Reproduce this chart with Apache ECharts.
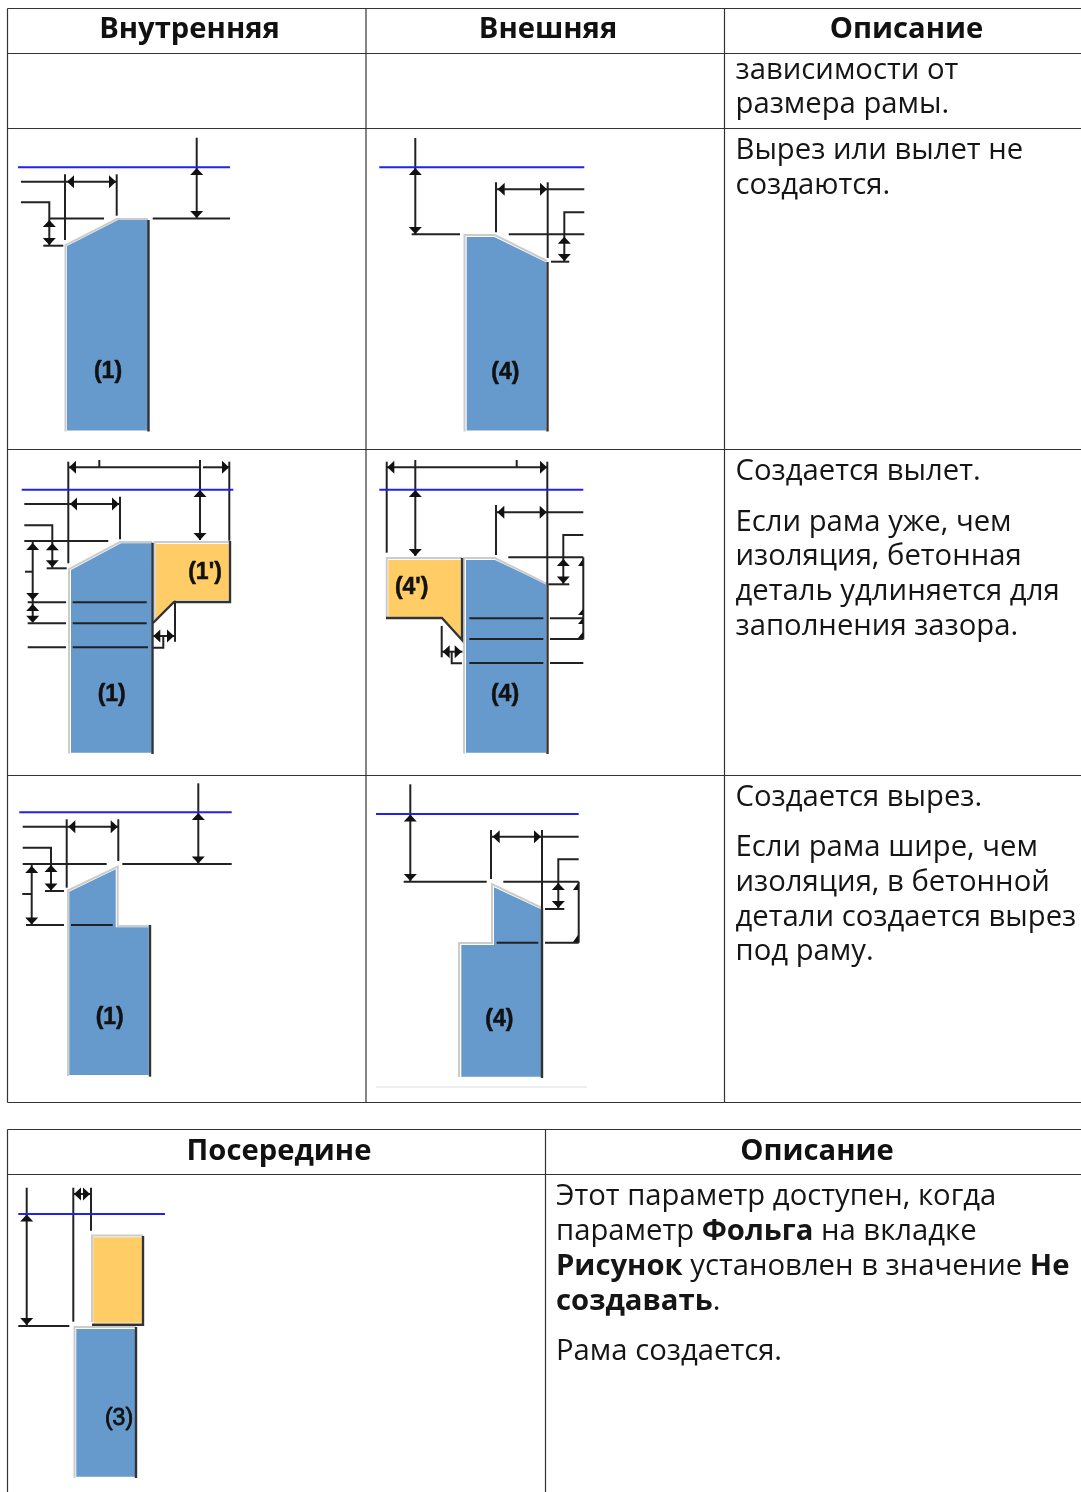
<!DOCTYPE html>
<html>
<head>
<meta charset="utf-8">
<title>Вырез и вылет</title>
<style>
html,body{margin:0;padding:0;background:#fff}
#main{width:1081px;height:1492px}
</style>
<script src="https://cdn.jsdelivr.net/npm/echarts@6/dist/echarts.min.js"></script>
</head>
<body>
<div id="main"></div>
<script>
// everything below is in picture pixels
var tableLines = [
  [[7.5,8.5],[1081,8.5]], [[7.5,53.5],[1081,53.5]], [[7.5,128.5],[1081,128.5]],
  [[7.5,449.5],[1081,449.5]], [[7.5,775.5],[1081,775.5]], [[7.5,1102.5],[1081,1102.5]],
  [[7.5,8.5],[7.5,1102.5]], [[366,8.5],[366,1102.5]], [[724.5,8.5],[724.5,1102.5]],
  [[7.5,1129.5],[1081,1129.5]], [[7.5,1174.5],[1081,1174.5]],
  [[7.5,1129.5],[7.5,1492]], [[545.5,1129.5],[545.5,1492]]
]
var faintLines = [[[376,1087],[587,1087]]]

var blueShapes = [
  [[67,246],[118,220],[148,220],[148,430.5],[67,430.5]],
  [[466.7,237],[494.3,237],[546,262.3],[546,430.5],[466.7,430.5]],
  [[71,570],[121,543.3],[151.7,543.3],[151.7,752.7],[71,752.7]],
  [[466,560],[495,560],[546,584.3],[546,752.7],[466,752.7]],
  [[69.3,891.7],[115.7,869.3],[115.7,927.3],[148.7,927.3],[148.7,1075],[69.3,1075]],
  [[494,887.3],[541,909.3],[541,1076.7],[461.3,1076.7],[461.3,945],[494,945]],
  [[76.3,1329],[135,1329],[135,1476.7],[76.3,1476.7]]
]
var orangeShapes = [
  [[156,544],[228.7,544],[228.7,600],[174,600],[156,620]],
  [[388.3,560],[460.7,560],[460.7,636.7],[442.7,616.7],[388.3,616.7]],
  [[93.3,1237.3],[141.7,1237.3],[141.7,1322.7],[93.3,1322.7]]
]
var greyEdges = [
  [[65.5,431.5],[65.5,245],[117,219],[148,219]],
  [[464.5,431.5],[464.5,235],[495,235],[547,261]],
  [[69,753.5],[69,569],[120,542],[152,542]],
  [[154.7,620],[154.7,542],[229,542]],
  [[464,753.5],[464,558],[495,558],[547,584]],
  [[386.7,618],[386.7,558],[462,558]],
  [[68,1076],[68,890.5],[117.7,866.5],[117.7,926],[150,926]],
  [[459,1077],[459,943],[492,943],[492,884],[542,908]],
  [[92,1322],[92,1235.5],[143,1235.5]],
  [[74.5,1478],[74.5,1327],[136,1327]]
]
var blackEdges = [
  [[148.5,220],[148.5,431.5]],
  [[547.5,262],[547.5,431.5]],
  [[152.5,542.7],[152.5,754]],
  [[230,541],[230,602],[174,602],[153,623]],
  [[547.5,584],[547.5,754]],
  [[386,618],[442,618],[462,640],[462,558]],
  [[150,925],[150,1076.7]],
  [[542,908],[542,1078]],
  [[143,1236],[143,1324.7],[92,1324.7]],
  [[136,1327],[136,1478]]
]
var blueLines = [
  [[18,167.3],[230,167.3]], [[379.3,167.3],[584.3,167.3]],
  [[21.7,489.7],[233.3,489.7]], [[379.3,489.7],[583.3,489.7]],
  [[19.3,812.3],[231.7,812.3]], [[376,814],[578.7,814]],
  [[18.3,1214],[165,1214]]
]
var dimLines = [
  // row 1, inner
  [[196.7,137.7],[196.7,218.3]], [[152.7,218.5],[230,218.5]], [[49,218.5],[104,218.5]],
  [[21,181.7],[116.7,181.7]], [[65,174.3],[65,240]], [[116.7,174.3],[116.7,215.7]],
  [[21,202.3],[49.3,202.3],[49.3,245.7]], [[43.3,245.7],[63.3,245.7]],
  // row 1, outer
  [[415.3,138],[415.3,234.3]], [[411.7,234.3],[460,234.3]], [[496,189.3],[584.3,189.3]],
  [[496,182.3],[496,232.3]], [[547.7,182.3],[547.7,258]], [[508.7,234.3],[584.3,234.3]],
  [[584.3,212.3],[564.3,212.3],[564.3,261.7]], [[551,261.7],[569.3,261.7]],
  // row 2, inner
  [[68.3,467.3],[199,467.3]], [[203,467.3],[229.3,467.3]], [[99.3,460],[99.3,467]],
  [[68.3,461.7],[68.3,563.3]], [[229.3,461.7],[229.3,540.7]], [[200,460],[200,540]],
  [[24.3,504],[120,504]], [[120,496.7],[120,539.3]],
  [[24.3,525.3],[52.3,525.3],[52.3,568.3]], [[24.3,541],[108.3,541]], [[46.7,568.3],[66.7,568.3]],
  [[32.7,541],[32.7,621.7]], [[25,571.7],[32.7,571.7]],
  [[27.7,602.3],[66,602.3]], [[72.7,602.3],[146.7,602.3]],
  [[27.7,623.3],[66,623.3]], [[72.7,623.3],[146.7,623.3]],
  [[27.7,647.3],[66,647.3]], [[72.7,647.3],[148,647.3]],
  [[153.3,636],[175,636]], [[175,600.7],[175,641.7]], [[163.3,636],[163.3,647.7],[153,647.7]],
  // row 2, outer
  [[386.7,467.3],[547.3,467.3]], [[516.7,460],[516.7,467]], [[386.7,461.7],[386.7,552.7]],
  [[547.3,461.7],[547.3,584]], [[415.3,460],[415.3,556]], [[496,512.3],[583.3,512.3]],
  [[496,505],[496,555]], [[583.3,535],[563.3,535],[563.3,584.3]], [[508.3,557.3],[583.3,557.3]],
  [[583.3,557.3],[583.3,639.3]], [[548.3,584.3],[569.3,584.3]],
  [[469.3,618.3],[543.3,618.3]], [[550,618.3],[583.3,618.3]],
  [[469.3,639],[543.3,639]], [[550,639],[583.3,639]],
  [[469.3,663],[543.3,663]], [[550,663],[583.3,663]],
  [[441.7,651.7],[462.5,651.7]], [[441.7,626],[441.7,657.3]], [[451.7,651.7],[451.7,663.3],[462,663.3]],
  // row 3, inner
  [[198.3,783.3],[198.3,864]], [[122.3,864],[231.7,864]], [[22.7,864],[106.7,864]],
  [[22.7,826.7],[118.3,826.7]], [[66.7,819.3],[66.7,887.7]], [[118.3,819.3],[118.3,861]],
  [[22.7,847.7],[51,847.7],[51,891]], [[45,891],[64,891]], [[31.7,864],[31.7,925]],
  [[22.3,894],[31.7,894]], [[26,925],[64,925]], [[71,925],[112.7,925]],
  // row 3, outer
  [[410.3,784.3],[410.3,881.7]], [[403.7,881.7],[486.7,881.7]], [[503.3,881.7],[578.7,881.7]],
  [[491,836.7],[578.7,836.7]], [[491,830],[491,879]], [[542,830],[542,908]],
  [[578.7,859.3],[558.3,859.3],[558.3,909]], [[545,909],[564.3,909]], [[578.7,881.7],[578.7,942.7]],
  [[496.7,942.7],[538.3,942.7]], [[545,942.7],[578.7,942.7]],
  // second table
  [[26.7,1187.7],[26.7,1325.7]], [[18.3,1326],[69.3,1326]], [[73.3,1187.7],[73.3,1321.7]],
  [[91,1187.7],[91,1230.7]], [[74,1194],[90,1194]]
]
// arrow tip x, tip y, direction it points
var arrowTips = [
  [196.7,168,'u'],[196.7,218,'d'],[67,181.7,'l'],[116,181.7,'r'],[49.3,220,'u'],[49.3,245,'d'],
  [415.3,168,'u'],[415.3,234,'d'],[497.7,189.3,'l'],[547,189.3,'r'],[564.3,236.7,'u'],[564.3,261,'d'],
  [69,467.3,'l'],[229,467.3,'r'],[200,490,'u'],[200,540,'d'],[70,504,'l'],[119,504,'r'],
  [52.3,543.3,'u'],[52.3,567.3,'d'],[32.7,543,'u'],[32.7,600,'d'],[32.7,604,'u'],[32.7,622.7,'d'],
  [153.3,636,'l'],[174,636,'r'],
  [387.3,467.3,'l'],[547,467.3,'r'],[415.3,490,'u'],[415.3,556,'d'],[497.3,512.3,'l'],[546.7,512.3,'r'],
  [563.3,559,'u'],[563.3,583.5,'d'],[442.7,651.7,'l'],[461.7,651.7,'r'],
  [198.3,813,'u'],[198.3,863.5,'d'],[68.3,826.7,'l'],[117.7,826.7,'r'],[51,865,'u'],[51,890.5,'d'],
  [31.7,866,'u'],[31.7,924.5,'d'],
  [410.3,814.5,'u'],[410.3,881,'d'],[492.7,836.7,'l'],[541,836.7,'r'],[558.3,883,'u'],[558.3,908,'d'],
  [26.7,1214.5,'u'],[26.7,1325,'d'],[74,1194,'l'],[90,1194,'r']
]
// the half arrows cut off at the right edge of the outer pictures
var halfArrows = [
  [[583,559],[583,566],[578,566]], [[583,609],[583,615],[578,615]],
  [[583,618],[583,624],[578,624]], [[583,632],[583,638],[578,638]],
  [[578,883],[578,890],[573,890]], [[578,935],[578,942],[573,942]]
]

var boldLabels = [['(1)',108,372],['(4)',505.3,373],['(1\')',205,572.5],['(1)',111.7,694.3],
  ['(4\')',411.7,588],['(4)',505,695],['(1)',109.7,1017.5],['(4)',499.3,1020]]
var plainLabels = [['(3)',119,1419]]
var headerTexts = [['Внутренняя',189.5,29.5],['Внешняя',548,29.5],['Описание',906.5,29.5],
  ['Посередине',279,1151.5],['Описание',817,1151.5]]
var bodyTexts = [
  ['зависимости от',735.5,71],['размера рамы.',735.5,105],
  ['Вырез или вылет не',735.5,151],['создаются.',735.5,186],
  ['Создается вылет.',735.5,472],['Если рама уже, чем',735.5,523],['изоляция, бетонная',735.5,557],
  ['деталь удлиняется для',735.5,592],['заполнения зазора.',735.5,627],
  ['Создается вырез.',735.5,798],['Если рама шире, чем',735.5,848],['изоляция, в бетонной',735.5,883],
  ['детали создается вырез',735.5,918],['под раму.',735.5,952],
  ['Этот параметр доступен, когда',556,1197],['параметр {b|Фольга} на вкладке',556,1232],
  ['{b|Рисунок} установлен в значение {b|Не}',556,1267],['{b|создавать}.',556,1302],
  ['Рама создается.',556,1352]
]

var FONT = '"Open Sans", sans-serif'
var LABEL_FONT = '"Liberation Sans", Arial, sans-serif'

function pathSeries(list, stroke, width, fill) {
  return {
    type: 'custom', silent: true, clip: false, coordinateSystem: 'cartesian2d',
    data: list.map(function (p, i) { return [i] }),
    renderItem: function (params, api) {
      var pts = list[params.dataIndex].map(function (p) { return api.coord(p) })
      return {
        type: 'polyline',
        shape: { points: fill ? pts.concat([pts[0]]) : pts },
        style: { stroke: stroke, lineWidth: width, fill: fill || null }
      }
    }
  }
}

function arrowSeries() {
  return {
    type: 'custom', silent: true, clip: false, coordinateSystem: 'cartesian2d',
    data: arrowTips.map(function (a, i) { return [i] }),
    renderItem: function (params, api) {
      var a = arrowTips[params.dataIndex]
      var t = api.coord([a[0], a[1]])
      var len = 7, half = 6.5, pts
      if (a[2] === 'u') pts = [t, [t[0] - half, t[1] + len], [t[0] + half, t[1] + len]]
      if (a[2] === 'd') pts = [t, [t[0] - half, t[1] - len], [t[0] + half, t[1] - len]]
      if (a[2] === 'l') pts = [t, [t[0] + len, t[1] - half], [t[0] + len, t[1] + half]]
      if (a[2] === 'r') pts = [t, [t[0] - len, t[1] - half], [t[0] - len, t[1] + half]]
      return { type: 'polygon', shape: { points: pts }, style: { fill: '#111' } }
    }
  }
}

function textSeries(list, font, size, weight, align, color, thick) {
  return {
    type: 'custom', silent: true, clip: false, coordinateSystem: 'cartesian2d',
    data: list.map(function (t, i) { return [i] }),
    renderItem: function (params, api) {
      var t = list[params.dataIndex]
      var p = api.coord([t[1], t[2]])
      return {
        type: 'text', x: p[0], y: p[1],
        style: {
          text: t[0], fontFamily: font, fontSize: size, fontWeight: weight,
          fill: color, align: align, verticalAlign: 'middle',
          stroke: thick ? color : null, lineWidth: thick || 0,
          rich: { b: { fontFamily: font, fontSize: size, fontWeight: 'bold', fill: color } }
        }
      }
    }
  }
}

var chart = echarts.init(document.getElementById('main'), null, { renderer: 'canvas' })
chart.setOption({
  animation: false,
  backgroundColor: '#fff',
  grid: { left: 0, right: 0, top: 0, bottom: 0 },
  xAxis: { type: 'value', min: 0, max: 1081, show: false },
  yAxis: { type: 'value', min: 0, max: 1492, inverse: true, show: false },
  series: [
    pathSeries(faintLines, '#e6e9ee', 1.5),
    pathSeries(blueShapes, null, 0, '#6699cc'),
    pathSeries(orangeShapes, null, 0, '#ffcc66'),
    pathSeries(greyEdges, '#cccccc', 2),
    pathSeries(dimLines, '#222222', 2),
    pathSeries(blackEdges, '#333333', 2.4),
    pathSeries(blueLines, '#2222ee', 2),
    arrowSeries(),
    pathSeries(halfArrows, null, 0, '#111'),
    pathSeries(tableLines, '#333333', 1.2),
    textSeries(boldLabels, LABEL_FONT, 23, 'bold', 'center', '#111', 0.5),
    textSeries(plainLabels, LABEL_FONT, 23, 'normal', 'center', '#111', 0.8),
    textSeries(headerTexts, FONT, 29.2, 'bold', 'center', '#111'),
    textSeries(bodyTexts, FONT, 29.25, 'normal', 'left', '#151515')
  ]
})
</script>
</body>
</html>
